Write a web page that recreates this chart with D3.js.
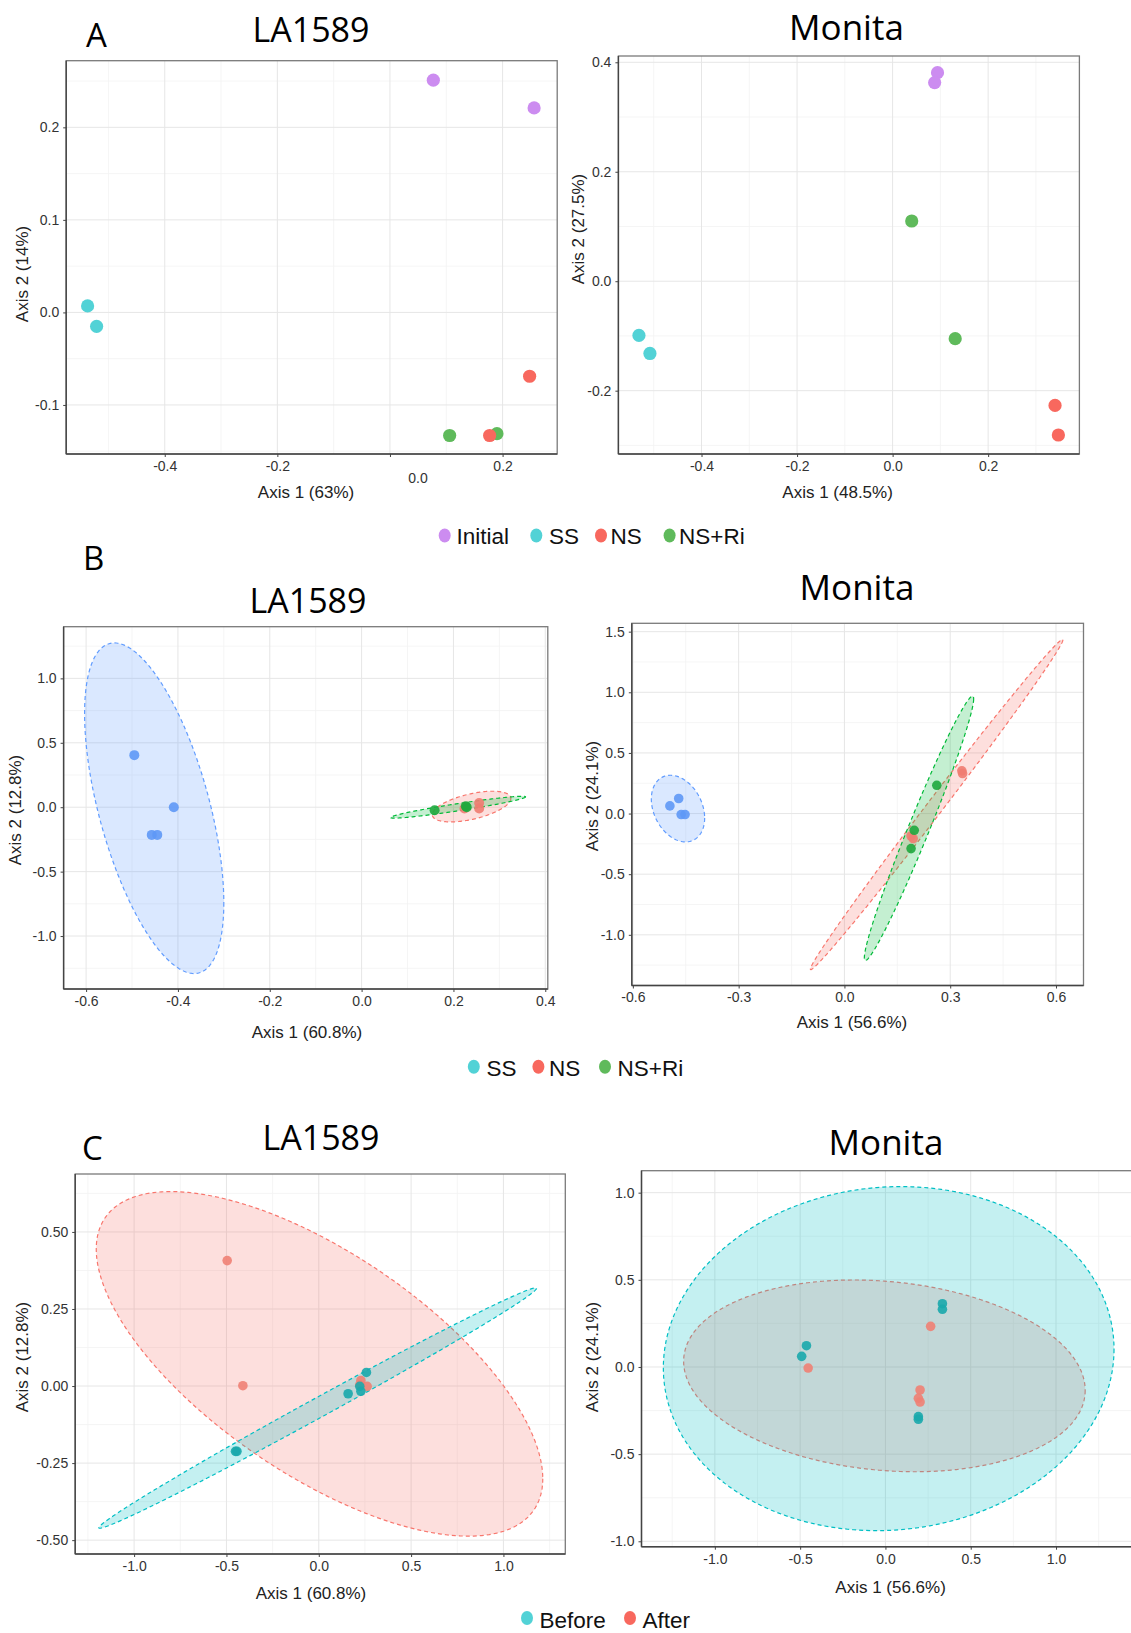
<!DOCTYPE html>
<html><head><meta charset="utf-8">
<script src="https://cdn.jsdelivr.net/npm/d3@7"></script>
<style>body{margin:0;background:#fff} svg{display:block}</style>
</head><body><svg id="c" width="1131" height="1633"></svg>
<script>
// ---------------- DATA ----------------
const groupsAB = ["Initial", "SS", "NS", "NS+Ri"];
const groupsC = ["Before", "After"];

// Panel A (PCoA): [axis1, axis2, group]
const ptsA_LA1589 = [
  [0.077, 0.251, "Initial"], [0.256, 0.221, "Initial"],
  [-0.537, 0.007, "SS"], [-0.521, -0.015, "SS"],
  [0.106, -0.133, "NS+Ri"], [0.190, -0.131, "NS+Ri"],
  [0.248, -0.069, "NS"], [0.177, -0.133, "NS"]
];
const ptsA_Monita = [
  [0.094, 0.381, "Initial"], [0.088, 0.363, "Initial"],
  [0.040, 0.110, "NS+Ri"], [0.131, -0.105, "NS+Ri"],
  [-0.531, -0.099, "SS"], [-0.508, -0.132, "SS"],
  [0.340, -0.227, "NS"], [0.347, -0.281, "NS"]
];
// Panel B
const ptsB_LA1589 = [
  [-0.495, 0.404, "SS"], [-0.409, 0.0, "SS"], [-0.457, -0.215, "SS"], [-0.445, -0.215, "SS"],
  [0.224, -0.010, "NS"], [0.256, 0.033, "NS"], [0.256, -0.010, "NS"],
  [0.159, -0.023, "NS+Ri"], [0.227, 0.008, "NS+Ri"], [0.229, 0.0, "NS+Ri"]
];
const ptsB_Monita = [
  [-0.495, 0.063, "SS"], [-0.470, 0.124, "SS"], [-0.463, -0.008, "SS"], [-0.452, -0.008, "SS"],
  [0.333, 0.352, "NS"], [0.335, 0.330, "NS"], [0.189, -0.185, "NS"], [0.195, -0.206, "NS"],
  [0.262, 0.233, "NS+Ri"], [0.198, -0.138, "NS+Ri"], [0.189, -0.289, "NS+Ri"]
];
// Panel C
const ptsC_LA1589 = [
  [-0.496, 0.407, "After"], [-0.411, 0.001, "After"], [0.228, 0.018, "After"], [0.262, -0.001, "After"], [0.222, 0.004, "After"],
  [0.258, 0.044, "Before"], [0.159, -0.025, "Before"], [0.222, -0.001, "Before"], [0.228, -0.017, "Before"],
  [-0.451, -0.212, "Before"], [-0.443, -0.212, "Before"]
];
const ptsC_Monita = [
  [0.334, 0.363, "Before"], [0.334, 0.331, "Before"], [-0.463, 0.122, "Before"], [-0.491, 0.061, "Before"],
  [0.193, -0.285, "Before"], [0.193, -0.300, "Before"],
  [0.265, 0.233, "After"], [-0.453, -0.006, "After"], [0.203, -0.132, "After"], [0.193, -0.180, "After"], [0.203, -0.201, "After"]
];

// Confidence ellipses: [group, centre1, centre2, halfExtent1, halfExtent2, phaseDeg]
const ellB_LA1589 = [
  ["SS", -0.4517, -0.008, 0.1516, 1.283, 124.9],
  ["NS", 0.2395, 0.005, 0.0855, 0.119, 57.9],
  ["NS+Ri", 0.21, 0.0, 0.147, 0.0848, 19.3]
];
const ellB_Monita = [
  ["SS", -0.472, 0.041, 0.0756, 0.275, 106.5],
  ["NS", 0.2615, 0.0745, 0.358, 1.3615, 4.5],
  ["NS+Ri", 0.2115, -0.1215, 0.155, 1.09, 11.9]
];
const ellC_LA1589 = [
  ["After", 0.004, 0.072, 1.209, 0.559, 131.8],
  ["Before", -0.006, -0.0715, 1.185, 0.39, 5.3]
];
const ellC_Monita = [
  ["After", -0.006, -0.051, 1.177, 0.55, 98.7],
  ["Before", 0.019, 0.048, 1.321, 0.987, 86.9]
];

// Tick values
const xTicksA1 = [-0.4, -0.2, 0.0, 0.2], yTicksA1 = [-0.1, 0.0, 0.1, 0.2];
const xTicksA2 = [-0.4, -0.2, 0.0, 0.2], yTicksA2 = [-0.2, 0.0, 0.2, 0.4];
const xTicksB1 = [-0.6, -0.4, -0.2, 0.0, 0.2, 0.4], yTicksB1 = [-1.0, -0.5, 0.0, 0.5, 1.0];
const xTicksB2 = [-0.6, -0.3, 0.0, 0.3, 0.6], yTicksB2 = [-1.0, -0.5, 0.0, 0.5, 1.0, 1.5];
const xTicksC1 = [-1.0, -0.5, 0.0, 0.5, 1.0], yTicksC1 = [-0.50, -0.25, 0.00, 0.25, 0.50];
const xTicksC2 = [-1.0, -0.5, 0.0, 0.5, 1.0], yTicksC2 = [-1.0, -0.5, 0.0, 0.5, 1.0];

const titles = ["LA1589", "Monita"];
const xTitles = ["Axis 1 (63%)", "Axis 1 (48.5%)", "Axis 1 (60.8%)", "Axis 1 (56.6%)", "Axis 1 (60.8%)", "Axis 1 (56.6%)"];
const yTitles = ["Axis 2 (14%)", "Axis 2 (27.5%)", "Axis 2 (12.8%)", "Axis 2 (24.1%)", "Axis 2 (12.8%)", "Axis 2 (24.1%)"];
const legendA = ["Initial", "SS", "NS", "NS+Ri"];
const legendB = ["SS", "NS", "NS+Ri"];
const legendC = ["Before", "After"];

// ---------------- STYLE ----------------
const colA = {"Initial": "#cc8cf0", "SS": "#52d2d6", "NS": "#f8685e", "NS+Ri": "#5fba5b"};
const colB = {"SS": "#619CFF", "NS": "#F8766D", "NS+Ri": "#00BA38"};
const colBpt = {"SS": "#5e98f6", "NS": "#f07c71", "NS+Ri": "#1fa83e"};
const colC = {"Before": "#00BFC4", "After": "#F8766D"};
const colCpt = {"Before": "#1aa9ac", "After": "#ef8174"};
const colLeg = {"Initial": "#cc8cf0", "SS": "#52d2d6", "NS": "#f8685e", "NS+Ri": "#5fba5b", "Before": "#52d2d6", "After": "#f8685e"};

const svg = d3.select("#c");
svg.append("rect").attr("width", 1131).attr("height", 1633).attr("fill", "#fff");

const TF = "'Open Sans', 'Noto Sans', sans-serif";
const AF = "'Liberation Sans', Arial, sans-serif";

const panels = [
  {box: [66.2, 557.2, 60.7, 454], xd: [-0.575, 0.297], yd: [-0.153, 0.272], xt: xTicksA1, yt: yTicksA1, dx: 1, dy: 1,
   pts: ptsA_LA1589, ell: [], pc: colA, r: 6.6, po: 1, hideX0: true,
   xTitle: [306, 498], yTitle: [22.5, 274]},
  {box: [618.4, 1079.4, 56, 454], xd: [-0.574, 0.391], yd: [-0.3157, 0.4115], xt: xTicksA2, yt: yTicksA2, dx: 1, dy: 1,
   pts: ptsA_Monita, ell: [], pc: colA, r: 6.6, po: 1,
   xTitle: [837.6, 497.5], yTitle: [577.6, 229]},
  {box: [63.6, 547.8, 626.7, 989], xd: [-0.649, 0.4055], yd: [-1.411, 1.401], xt: xTicksB1, yt: yTicksB1, dx: 1, dy: 1,
   pts: ptsB_LA1589, ell: ellB_LA1589, ec: colB, pc: colBpt, r: 5, po: 0.9,
   xTitle: [307, 1037.5], yTitle: [15.3, 810]},
  {box: [631.8, 1083.5, 623.3, 985.5], xd: [-0.603, 0.678], yd: [-1.418, 1.569], xt: xTicksB2, yt: yTicksB2, dx: 1, dy: 1,
   pts: ptsB_Monita, ell: ellB_Monita, ec: colB, pc: colBpt, r: 4.8, po: 0.9,
   xTitle: [852, 1027.5], yTitle: [592, 796]},
  {box: [75.2, 565.3, 1174, 1554], xd: [-1.319, 1.335], yd: [-0.545, 0.688], xt: xTicksC1, yt: yTicksC1, dx: 1, dy: 2,
   pts: ptsC_LA1589, ell: ellC_LA1589, ec: colC, pc: colCpt, r: 4.8, po: 0.9,
   xTitle: [311, 1599], yTitle: [22.5, 1357]},
  {box: [641.5, 1135, 1170.7, 1546.7], xd: [-1.43, 1.463], yd: [-1.031, 1.126], xt: xTicksC2, yt: yTicksC2, dx: 1, dy: 1,
   pts: ptsC_Monita, ell: ellC_Monita, ec: colC, pc: colCpt, r: 4.8, po: 0.9,
   xTitle: [890.6, 1592.5], yTitle: [592, 1357]}
];

function minors(ticks, dom) {
  const step = ticks[1] - ticks[0];
  const out = [];
  for (let i = -1; i < ticks.length; i++) {
    const v = ticks[0] + (i + 0.5) * step;
    if (v > Math.min(...dom) && v < Math.max(...dom)) out.push(v);
  }
  return out;
}

panels.forEach((p, idx) => {
  const [l, r, t, b] = p.box;
  const x = d3.scaleLinear().domain(p.xd).range([l, r]);
  const y = d3.scaleLinear().domain(p.yd).range([b, t]);
  const g = svg.append("g");
  const cid = "clip" + idx;
  svg.append("clipPath").attr("id", cid).append("rect").attr("x", l).attr("y", t).attr("width", r - l).attr("height", b - t);

  // grid
  const grid = g.append("g");
  minors(p.xt, p.xd).forEach(v => grid.append("line").attr("x1", x(v)).attr("x2", x(v)).attr("y1", t).attr("y2", b).attr("stroke", "#f2f2f2").attr("stroke-width", 0.8));
  minors(p.yt, p.yd).forEach(v => grid.append("line").attr("y1", y(v)).attr("y2", y(v)).attr("x1", l).attr("x2", r).attr("stroke", "#f2f2f2").attr("stroke-width", 0.8));
  p.xt.forEach(v => grid.append("line").attr("x1", x(v)).attr("x2", x(v)).attr("y1", t).attr("y2", b).attr("stroke", "#e6e6e6").attr("stroke-width", 1));
  p.yt.forEach(v => grid.append("line").attr("y1", y(v)).attr("y2", y(v)).attr("x1", l).attr("x2", r).attr("stroke", "#e6e6e6").attr("stroke-width", 1));

  // ellipses
  const eg = g.append("g").attr("clip-path", `url(#${cid})`);
  const line = d3.line().x(d => x(d[0])).y(d => y(d[1])).curve(d3.curveLinearClosed);
  p.ell.forEach(e => {
    const [grp, cx, cy, A, B, ph] = e;
    const phi = ph * Math.PI / 180;
    const pts = d3.range(0, 360, 1.5).map(a => {
      const tt = a * Math.PI / 180;
      return [cx + A * Math.cos(tt), cy + B * Math.cos(tt + phi)];
    });
    eg.append("path").attr("d", line(pts))
      .attr("fill", p.ec[grp]).attr("fill-opacity", 0.23)
      .attr("stroke", p.ec[grp]).attr("stroke-width", 1.2).attr("stroke-dasharray", "4,3");
  });

  // points
  const pg = g.append("g").attr("clip-path", `url(#${cid})`);
  pg.selectAll("circle").data(p.pts).join("circle")
    .attr("cx", d => x(d[0])).attr("cy", d => y(d[1])).attr("r", p.r)
    .attr("fill", d => p.pc[d[2]]).attr("fill-opacity", p.po);

  // border
  g.append("rect").attr("x", l).attr("y", t).attr("width", r - l).attr("height", b - t)
    .attr("fill", "none").attr("stroke", "#7a7a7a").attr("stroke-width", 1.3);
  g.append("line").attr("x1", l).attr("x2", l).attr("y1", t).attr("y2", b).attr("stroke", "#444").attr("stroke-width", 1.4);
  g.append("line").attr("x1", l).attr("x2", r).attr("y1", b).attr("y2", b).attr("stroke", "#444").attr("stroke-width", 1.4);

  // axes (ASCII hyphen-minus, as in the reference)
  const mk = dec => { const f = d3.format("." + dec + "f"); return v => f(v).replace("\u2212", "-"); };
  const fx = mk(p.dx), fy = mk(p.dy);
  const xa = d3.axisBottom(x).tickValues(p.xt).tickSize(3).tickPadding(4)
    .tickFormat(v => (p.hideX0 && Math.abs(v) < 1e-9) ? "" : fx(v));
  const ya = d3.axisLeft(y).tickValues(p.yt).tickSize(3).tickPadding(4).tickFormat(v => fy(v));
  const gx = g.append("g").attr("transform", `translate(0,${b})`).call(xa);
  const gy = g.append("g").attr("transform", `translate(${l},0)`).call(ya);
  [gx, gy].forEach(ax => {
    ax.select(".domain").remove();
    ax.selectAll("line").attr("stroke", "#444");
    ax.selectAll("text").attr("font-family", AF).attr("font-size", 14).attr("fill", "#333");
  });

  // axis titles
  g.append("text").attr("x", p.xTitle[0]).attr("y", p.xTitle[1]).attr("text-anchor", "middle")
    .attr("font-family", AF).attr("font-size", 17).attr("fill", "#222").text(xTitles[idx]);
  g.append("text").attr("transform", `translate(${p.yTitle[0]},${p.yTitle[1]}) rotate(-90)`)
    .attr("text-anchor", "middle").attr("dy", "0.35em")
    .attr("font-family", AF).attr("font-size", 17).attr("fill", "#222").text(yTitles[idx]);
});

// stray "0.0" tick label in panel A, LA1589
svg.append("text").attr("x", 418).attr("y", 483).attr("text-anchor", "middle")
  .attr("font-family", AF).attr("font-size", 14).attr("fill", "#333").text(d3.format(".1f")(xTicksA1[2]));

// panel titles & letters
const titlePos = [[311, 42, 0, 34], [846.5, 40, 1, 35], [308, 613, 0, 34], [857, 600, 1, 35], [321, 1150, 0, 34], [886, 1155, 1, 35]];
titlePos.forEach(tp => svg.append("text").attr("x", tp[0]).attr("y", tp[1]).attr("text-anchor", "middle")
  .attr("font-family", TF).attr("font-size", tp[3]).attr("fill", "#000").text(titles[tp[2]]));
[["A", 86, 47], ["B", 83, 570], ["C", 82, 1160]].forEach(l => svg.append("text").attr("x", l[1]).attr("y", l[2])
  .attr("font-family", TF).attr("font-size", 33).attr("fill", "#000").text(l[0]));

// legends
function legend(items, dots, texts, cy, base) {
  items.forEach((it, i) => {
    svg.append("ellipse").attr("cx", dots[i]).attr("cy", cy).attr("rx", 6).attr("ry", 7).attr("fill", colLeg[it]);
    svg.append("text").attr("x", texts[i]).attr("y", base).attr("font-family", AF).attr("font-size", 22.5)
      .attr("fill", "#111").text(it);
  });
}
legend(legendA, [444.7, 536.3, 601, 669.6], [456.5, 549, 610.5, 679], 535.5, 543.7);
legend(legendB, [473.8, 538.4, 605], [486.5, 549, 617.6], 1066.7, 1076);
legend(legendC, [527, 630], [539.5, 642.5], 1618, 1628);
</script></body></html>
